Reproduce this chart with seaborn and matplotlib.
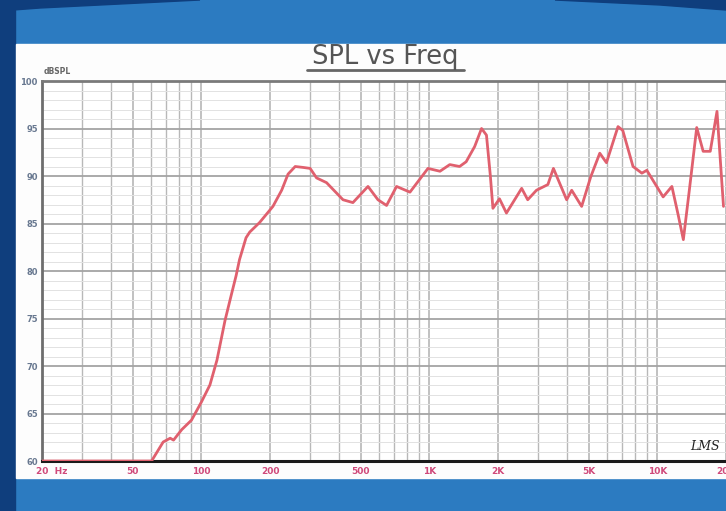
import matplotlib
matplotlib.use("Agg")
import matplotlib.pyplot as plt
from matplotlib.patches import Rectangle, Polygon
from matplotlib.lines import Line2D
from matplotlib.ticker import FixedLocator, NullFormatter
import numpy as np
import pandas as pd
import seaborn as sns

# Measured response: frequency (Hz) and sound pressure level (dB SPL)
freq_hz = [20, 60.5, 68, 73, 75.5, 82, 90.5, 100, 109, 117,
           127, 136, 142, 147, 157, 163, 180, 206, 225, 240,
           258, 280, 300, 320, 354, 418, 462, 538, 595, 649,
           718, 822, 986, 1113, 1229, 1357, 1450, 1580, 1694, 1780,
           1850, 1900, 2030, 2178, 2540, 2700, 2950, 3310, 3500, 4000,
           4210, 4655, 5100, 5590, 5980, 6720, 7050, 7820, 8550, 8990,
           10600, 11580, 12340, 13000, 13810, 14880, 15880, 17060, 18260, 19500]
spl_db = [60, 60, 62, 62.4, 62.2, 63.3, 64.3, 66.2, 68, 70.6,
          74.8, 77.7, 79.5, 81.2, 83.5, 84.1, 85.1, 86.8, 88.5, 90.2,
          91.0, 90.9, 90.8, 89.8, 89.3, 87.5, 87.2, 88.9, 87.5, 86.9,
          88.9, 88.3, 90.8, 90.5, 91.2, 91.0, 91.5, 93.1, 95.0, 94.3,
          90.1, 86.6, 87.6, 86.1, 88.7, 87.5, 88.5, 89.1, 90.8, 87.5,
          88.5, 86.8, 89.9, 92.4, 91.4, 95.2, 94.8, 91.0, 90.3, 90.6,
          87.8, 88.9, 85.9, 83.3, 88.5, 95.1, 92.6, 92.6, 96.8, 86.8]

x_ticks = [20, 50, 100, 200, 500, 1000, 2000, 5000, 10000, 20000]
x_labels = ["20  Hz", "50", "100", "200", "500", "1K", "2K", "5K", "10K", "20K"]
y_ticks = [60, 65, 70, 75, 80, 85, 90, 95, 100]
y_labels = ["60", "65", "70", "75", "80", "85", "90", "95", "100"]

df = pd.DataFrame({"freq": freq_hz, "spl": spl_db})

sns.set_style("white")
plt.rcParams["font.family"] = ["DejaVu Sans"]

W, H = 726, 511
fig = plt.figure(figsize=(W / 100, H / 100), dpi=100)
fig.patch.set_facecolor("#2c7bc1")

def fx(px):
    return px / W

def fy(py):
    return 1 - py / H

# Slide backdrop: dark side strip, darker top corners, white panel
fig.add_artist(Rectangle((0, 0), fx(15), 1, transform=fig.transFigure,
                         color="#0f3e7d", zorder=0))
fig.add_artist(Polygon([(fx(0), fy(0)), (fx(200), fy(0)), (fx(120), fy(4)),
                        (fx(40), fy(8)), (fx(0), fy(11))],
                       closed=True, transform=fig.transFigure,
                       color="#0f3e7d", zorder=0))
fig.add_artist(Polygon([(fx(555), fy(0)), (fx(726), fy(0)), (fx(726), fy(10)),
                        (fx(660), fy(5))],
                       closed=True, transform=fig.transFigure,
                       color="#0f3e7d", zorder=0))
fig.add_artist(Rectangle((fx(16), fy(478)), fx(710), (478 - 44) / H,
                         transform=fig.transFigure, color="#fdfdfd", zorder=0))

ax = fig.add_axes([fx(42), fy(461), fx(684), 380 / H])
ax.set_facecolor("white")

sns.lineplot(data=df, x="freq", y="spl", ax=ax, color="#e0606e",
             linewidth=2.0, sort=False, estimator=None, zorder=3)

ax.set_xscale("log")
ax.set_xlim(20, 20000)
ax.set_ylim(60, 100)

ax.set_xticks(x_ticks)
ax.set_xticklabels(x_labels)
minor_x = [m * d for d in (10, 100, 1000, 10000) for m in range(1, 10)
           if 20 <= m * d <= 20000]
ax.xaxis.set_minor_locator(FixedLocator(minor_x))
ax.xaxis.set_minor_formatter(NullFormatter())
ax.set_yticks(y_ticks)
ax.set_yticklabels(y_labels)
ax.yaxis.set_minor_locator(FixedLocator(list(range(60, 101))))

ax.grid(True, which="major", axis="x", color="#b0b0b0", linewidth=1.1)
ax.grid(True, which="minor", axis="x", color="#b8b8b8", linewidth=1.0)
ax.grid(True, which="major", axis="y", color="#a4a4a4", linewidth=1.3)
ax.grid(True, which="minor", axis="y", color="#e2e2e2", linewidth=0.7)
ax.set_axisbelow(True)

ax.tick_params(axis="both", which="both", length=0)
ax.tick_params(axis="x", pad=4, labelsize=6.5, labelcolor="#d0497a")
ax.tick_params(axis="y", pad=3, labelsize=6, labelcolor="#687890")
for lab in ax.get_xticklabels() + ax.get_yticklabels():
    lab.set_fontweight("bold")

# "20 Hz" sits with its number on the first tick
first = ax.get_xticklabels()[0]
first.set_horizontalalignment("left")
from matplotlib.transforms import ScaledTranslation
first.set_transform(first.get_transform() + ScaledTranslation(-6 / 100, 0, fig.dpi_scale_trans))

ax.set_xlabel("")
ax.set_ylabel("")

for side, col, lw in (("left", "#6e6e6e", 2.0), ("bottom", "#1a1a1a", 2.2),
                      ("top", "#7a7a7a", 2.0)):
    ax.spines[side].set_visible(True)
    ax.spines[side].set_color(col)
    ax.spines[side].set_linewidth(lw)
ax.spines["right"].set_visible(False)

# Title with underline
fig.text(fx(385), fy(57), "SPL vs Freq", ha="center", va="center",
         fontsize=18.5, color="#555555")
fig.add_artist(Line2D([fx(307), fx(464)], [fy(70), fy(70)],
                      transform=fig.transFigure, color="#666666", linewidth=2))

fig.text(fx(44), fy(72), "dBSPL", ha="left", va="center", fontsize=5.5,
         fontweight="bold", color="#666666")

fig.text(fx(705), fy(446), "LMS", ha="center", va="center", fontsize=9,
         style="italic", family="DejaVu Serif", color="#222222")

fig.savefig("out.png", dpi=100, facecolor=fig.get_facecolor())
